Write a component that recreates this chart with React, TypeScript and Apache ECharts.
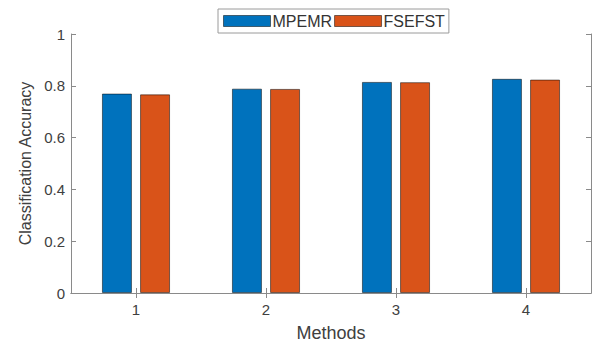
import React, { useEffect, useRef } from "react";
import * as echarts from "echarts";

const categories = ["1", "2", "3", "4"];
const mpemr = [0.77, 0.789, 0.815, 0.827];
const fsefst = [0.767, 0.788, 0.814, 0.824];
const seriesNames = ["MPEMR", "FSEFST"];

const FONT = "Liberation Sans, Arial, sans-serif";
const AXIS_COLOR = "#8a8a8a";
const TEXT_COLOR = "#404040";

export default function App() {
  const ref = useRef<HTMLDivElement>(null);
  useEffect(() => {
    if (!ref.current) return;
    const chart = echarts.init(ref.current, undefined, { renderer: "svg" });
    const axisLine = { show: true, lineStyle: { color: AXIS_COLOR, width: 1 } };
    const tick = { show: true, inside: true, length: 5, lineStyle: { color: AXIS_COLOR } };
    chart.setOption({
      animation: false,
      backgroundColor: "#ffffff",
      textStyle: { fontFamily: FONT },
      grid: { left: 71, right: 3, top: 34, bottom: 51, containLabel: false },
      legend: {
        data: seriesNames,
        left: 218,
        top: 9,
        padding: [4, 4, 4, 5],
        itemGap: 2,
        itemWidth: 47,
        itemHeight: 11,
        borderColor: "#9a9a9a",
        borderWidth: 1,
        backgroundColor: "#ffffff",
        icon: "rect",
        itemStyle: { borderColor: "rgba(0,0,0,0.5)", borderWidth: 1 },
        textStyle: { fontSize: 16, color: "#333333", fontFamily: FONT, padding: [0, 0, 0, -3] },
      },
      xAxis: [
        {
          type: "category",
          data: categories,
          position: "bottom",
          axisLine,
          axisTick: { ...tick, alignWithLabel: true },
          axisLabel: { fontSize: 15, color: TEXT_COLOR, margin: 9, fontFamily: FONT },
          name: "Methods",
          nameLocation: "middle",
          nameGap: 31,
          nameTextStyle: { fontSize: 18, color: TEXT_COLOR, fontFamily: FONT },
          splitLine: { show: false },
        },
        {
          type: "category",
          data: categories,
          position: "top",
          axisLine,
          axisTick: { ...tick, alignWithLabel: true },
          axisLabel: { show: false },
          splitLine: { show: false },
        },
      ],
      yAxis: [
        {
          type: "value",
          min: 0,
          max: 1,
          interval: 0.2,
          position: "left",
          axisLine,
          axisTick: tick,
          axisLabel: { fontSize: 15, color: TEXT_COLOR, margin: 6, fontFamily: FONT },
          name: "Classification Accuracy",
          nameLocation: "middle",
          nameGap: 38,
          nameTextStyle: { fontSize: 16, color: TEXT_COLOR, fontFamily: FONT },
          splitLine: { show: false },
        },
        {
          type: "value",
          min: 0,
          max: 1,
          interval: 0.2,
          position: "right",
          axisLine,
          axisTick: tick,
          axisLabel: { show: false },
          splitLine: { show: false },
        },
      ],
      series: [
        {
          name: seriesNames[0],
          type: "bar",
          data: mpemr,
          barWidth: 30,
          barGap: "27%",
          itemStyle: { color: "#0072BD", borderColor: "rgba(0,0,0,0.5)", borderWidth: 1 },
        },
        {
          name: seriesNames[1],
          type: "bar",
          data: fsefst,
          barWidth: 30,
          barGap: "27%",
          itemStyle: { color: "#D95319", borderColor: "rgba(0,0,0,0.5)", borderWidth: 1 },
        },
      ],
    });
    return () => chart.dispose();
  }, []);
  return <div ref={ref} style={{ width: 594, height: 347, position: "absolute", left: 0, top: 0 }} />;
}
